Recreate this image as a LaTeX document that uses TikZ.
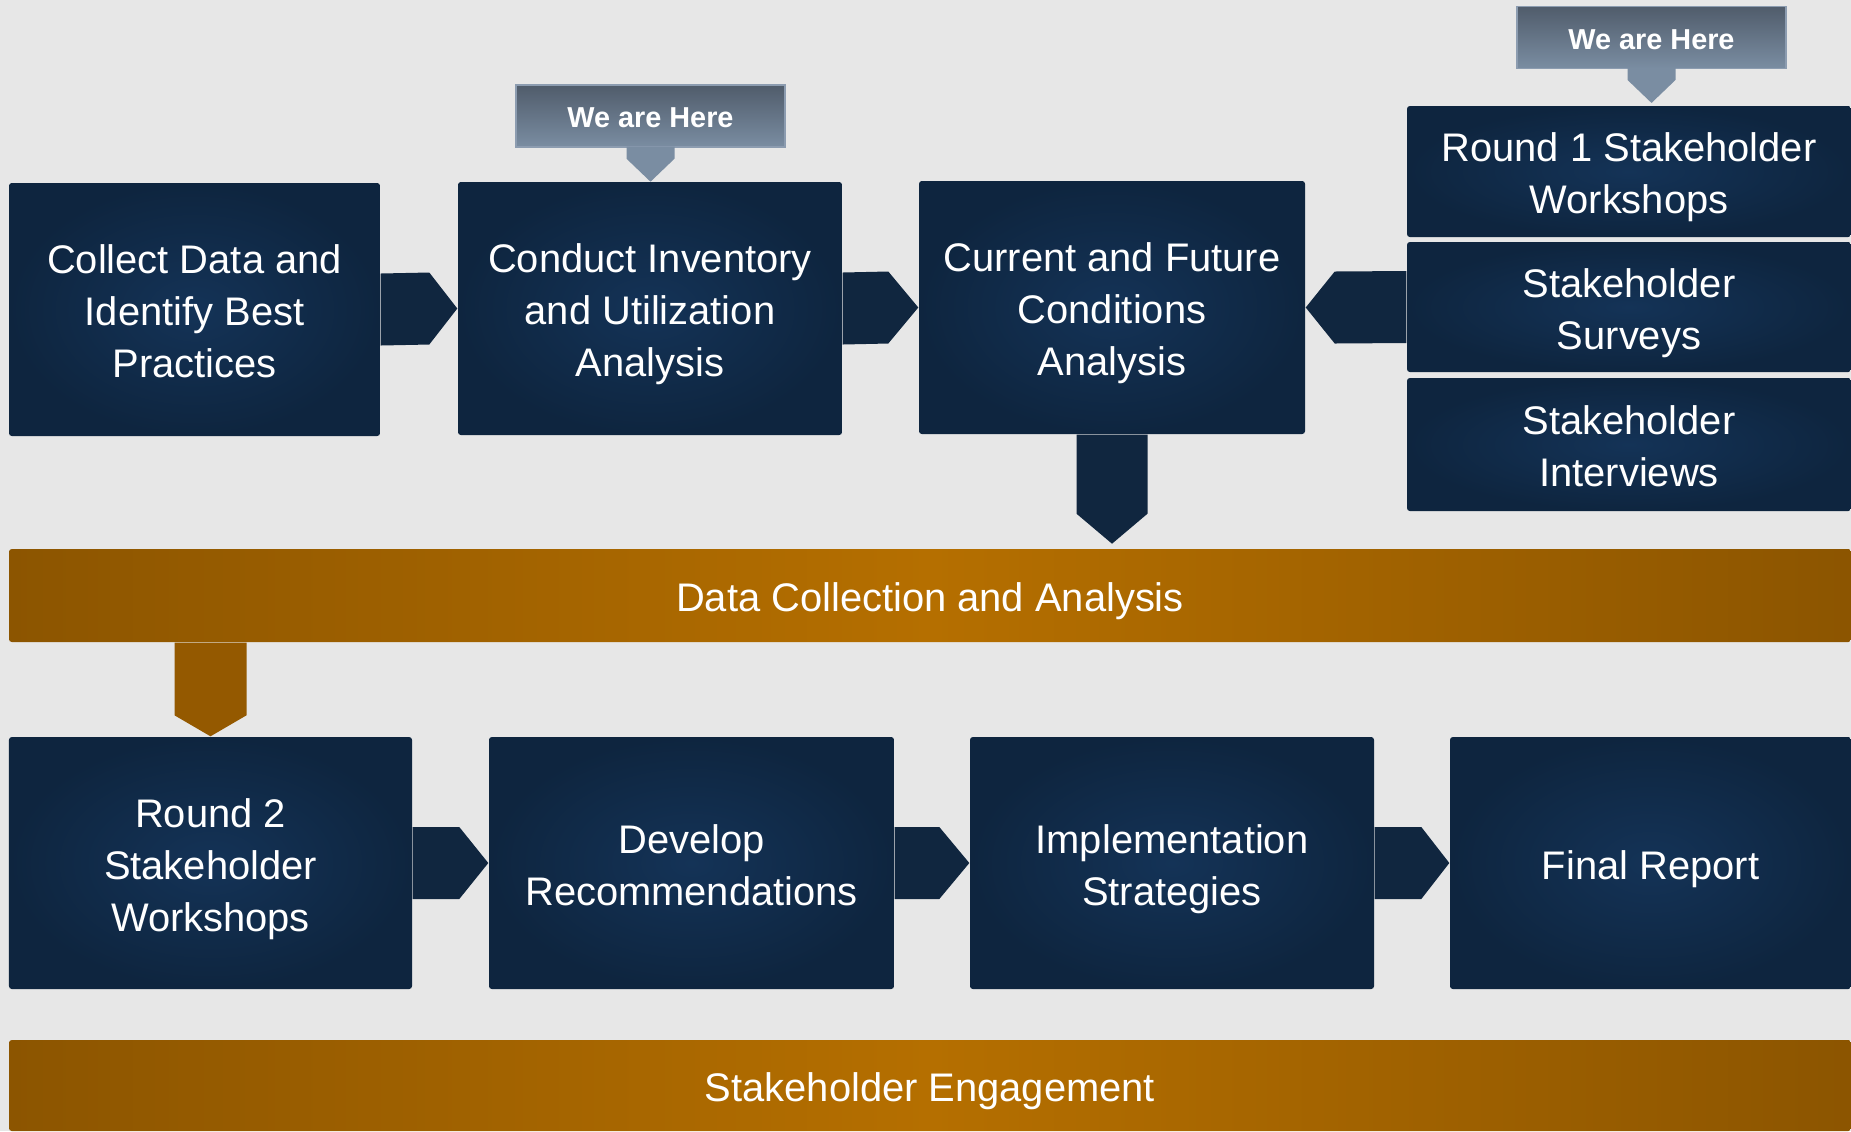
\documentclass[tikz,border=0pt]{standalone}
\usepackage{fontspec}
\setmainfont{Liberation Sans}
\usetikzlibrary{calc}
\definecolor{paper}{RGB}{231,231,231}
\definecolor{navymid}{RGB}{20,51,87}
\definecolor{navyedge}{RGB}{14,37,63}
\definecolor{navylink}{RGB}{16,38,63}
\definecolor{ochreedge}{RGB}{140,85,0}
\definecolor{ochremid}{RGB}{181,111,0}
\definecolor{ochrelink}{RGB}{148,89,0}
\definecolor{slatetop}{RGB}{80,92,107}
\definecolor{slatebot}{RGB}{122,141,162}
\definecolor{slateline}{RGB}{140,156,176}
\newcommand{\lp}{\rule[-0.22em]{0pt}{1.26em}}
\tikzset{
  stage/.style={rectangle, rounded corners=0.8pt, inner color=navymid, outer color=navyedge, text=white, align=center, inner sep=0pt, font=\fontsize{11.35}{14.8}\selectfont},
  band/.style={rectangle, rounded corners=0.8pt, left color=ochreedge, right color=ochreedge, middle color=ochremid, text=white, inner sep=0pt, font=\fontsize{11.35}{14.8}\selectfont, execute at begin node=\lp},
  here/.style={rectangle, top color=slatetop, bottom color=slatebot, draw=slateline, line width=0.4pt, text=white, inner sep=0pt, minimum width=2.69cm, minimum height=0.62cm, font=\bfseries\fontsize{8.2}{10}\selectfont, execute at begin node=\lp},
  link/.style={fill=navylink},
  bandlink/.style={fill=ochrelink},
  pin/.style={fill=slatebot}
}
\begin{document}
\begin{tikzpicture}
\useasboundingbox (0,0) rectangle (18.51,-11.31);
\fill [paper] (0,0) rectangle (18.51,-11.31);
% top row
\node [stage, minimum width=3.71cm, minimum height=2.53cm] (collect) at (1.945,-3.095) {\lp Collect Data and\\Identify Best\\Practices\lp};
\node [stage, minimum width=3.84cm, minimum height=2.53cm] (inventory) at (6.50,-3.085) {\lp Conduct Inventory\\and Utilization\\Analysis\lp};
\node [stage, minimum width=3.86cm, minimum height=2.53cm] (conditions) at (11.12,-3.075) {\lp Current and Future\\Conditions\\Analysis\lp};
\node [stage, minimum width=4.44cm, minimum height=1.31cm] (workshop1) at (16.29,-1.715) {\lp Round 1 Stakeholder\\Workshops\lp};
\node [stage, minimum width=4.44cm, minimum height=1.30cm] (surveys) at (16.29,-3.07) {\lp Stakeholder\\Surveys\lp};
\node [stage, minimum width=4.44cm, minimum height=1.33cm] (interviews) at (16.29,-4.445) {\lp Stakeholder\\Interviews\lp};
\node [band, minimum width=18.42cm, minimum height=0.93cm] (datacol) at (9.30,-5.955) {Data Collection and Analysis};
% bottom row
\node [stage, minimum width=4.03cm, minimum height=2.52cm] (workshop2) at (2.105,-8.63) {\lp Round 2\\Stakeholder\\Workshops\lp};
\node [stage, minimum width=4.05cm, minimum height=2.52cm] (recommend) at (6.915,-8.63) {\lp Develop\\Recommendations\lp};
\node [stage, minimum width=4.04cm, minimum height=2.52cm] (strategies) at (11.72,-8.63) {\lp Implementation\\Strategies\lp};
\node [stage, minimum width=4.01cm, minimum height=2.52cm] (report) at (16.505,-8.63) {\lp Final Report\lp};
\node [band, minimum width=18.42cm, minimum height=0.91cm] (engage) at (9.30,-10.855) {Stakeholder Engagement};
% callouts
\node [here] (here1) at (6.505,-1.16) {We are Here};
\node [here] (here2) at (16.515,-0.3725) {We are Here};
\coordinate (pin1) at ($(here1.south)+(0,-.34)$);
\coordinate (pin2) at ($(here2.south)+(0,-.34)$);
\fill [pin] ($(here1.south)+(-.24,.01)$) -- ($(here1.south)+(-.24,-.11)$) -- (pin1) -- ($(here1.south)+(.24,-.11)$) -- ($(here1.south)+(.24,.01)$) -- cycle;
\fill [pin] ($(here2.south)+(-.24,.01)$) -- ($(here2.south)+(-.24,-.11)$) -- (pin2) -- ($(here2.south)+(.24,-.11)$) -- ($(here2.south)+(.24,.01)$) -- cycle;
% connectors, top row
\fill [link] ($(collect.east)+(0,.36)$) -- ($(inventory.west)+(-.28,.36)$) -- (inventory.west) -- ($(inventory.west)+(-.28,-.36)$) -- ($(collect.east)+(0,-.36)$) -- cycle;
\fill [link] ($(inventory.east)+(0,.36)$) -- ($(conditions.west)+(-.30,.36)$) -- (conditions.west) -- ($(conditions.west)+(-.30,-.36)$) -- ($(inventory.east)+(0,-.36)$) -- cycle;
\fill [link] ($(surveys.west)+(0,.36)$) -- ($(conditions.east)+(.29,.36)$) -- (conditions.east) -- ($(conditions.east)+(.29,-.36)$) -- ($(surveys.west)+(0,-.36)$) -- cycle;
\coordinate (condtip) at ($(conditions.south)+(0,-1.09)$);
\fill [link] ($(conditions.south)+(-.355,0)$) -- ($(condtip)+(-.355,.30)$) -- (condtip) -- ($(condtip)+(.355,.30)$) -- ($(conditions.south)+(.355,0)$) -- cycle;
% connectors, bottom row
\coordinate (bandfoot) at (datacol.south -| workshop2.north);
\fill [bandlink] ($(bandfoot)+(-.36,0)$) -- ($(workshop2.north)+(-.36,.21)$) -- (workshop2.north) -- ($(workshop2.north)+(.36,.21)$) -- ($(bandfoot)+(.36,0)$) -- cycle;
\fill [link] ($(workshop2.east)+(0,.36)$) -- ($(recommend.west)+(-.29,.36)$) -- (recommend.west) -- ($(recommend.west)+(-.29,-.36)$) -- ($(workshop2.east)+(0,-.36)$) -- cycle;
\fill [link] ($(recommend.east)+(0,.36)$) -- ($(strategies.west)+(-.30,.36)$) -- (strategies.west) -- ($(strategies.west)+(-.30,-.36)$) -- ($(recommend.east)+(0,-.36)$) -- cycle;
\fill [link] ($(strategies.east)+(0,.36)$) -- ($(report.west)+(-.28,.36)$) -- (report.west) -- ($(report.west)+(-.28,-.36)$) -- ($(strategies.east)+(0,-.36)$) -- cycle;
\end{tikzpicture}
\end{document}
